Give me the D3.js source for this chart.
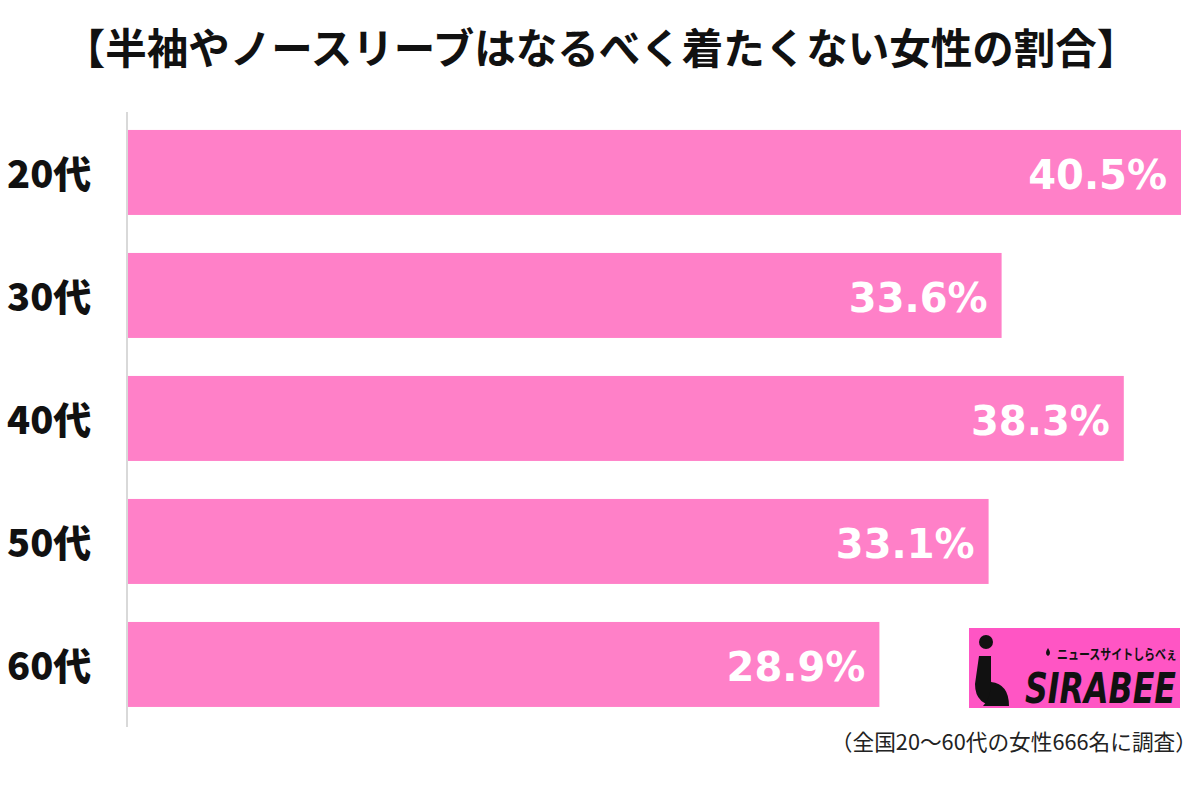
<!DOCTYPE html>
<html><head><meta charset="utf-8">
<script src="https://cdn.jsdelivr.net/npm/d3@7/dist/d3.min.js"></script>
<style>body{margin:0;background:#fff;} svg{display:block;}</style>
</head><body>
<svg id="chart" width="1200" height="786"></svg>
<script>
const categories = ["20代","30代","40代","50代","60代"];
const values = [40.5, 33.6, 38.3, 33.1, 28.9];
const valueLabels = ["40.5%","33.6%","38.3%","33.1%","28.9%"];
const title = "【半袖やノースリーブはなるべく着たくない女性の割合】";
const note = "（全国20〜60代の女性666名に調査）";

const svg = d3.select("#chart");
const font = "'Noto Sans CJK JP','Noto Sans',sans-serif";

svg.append("text").attr("x",601).attr("y",64).attr("text-anchor","middle")
  .attr("font-family",font).attr("font-weight","bold").attr("font-size",41.5).attr("fill","#111").text(title);

const x = d3.scaleLinear().domain([0,40.5]).range([128,1181]);
const y = d3.scaleBand().domain(categories).range([111.5,725.4]).paddingInner(0.309).paddingOuter(0.15);

svg.append("line").attr("x1",127).attr("x2",127).attr("y1",112).attr("y2",727)
  .attr("stroke","#d9d9d9").attr("stroke-width",2);

const g = svg.append("g");
g.selectAll("rect.bar").data(values).join("rect").attr("class","bar")
  .attr("x",x(0)).attr("y",(d,i)=>y(categories[i]))
  .attr("width",d=>x(d)-x(0)).attr("height",y.bandwidth()).attr("fill","#ff80c8");

g.selectAll("text.val").data(values).join("text").attr("class","val")
  .attr("x",d=>x(d)-14).attr("y",(d,i)=>y(categories[i])+y.bandwidth()/2+16.5)
  .attr("text-anchor","end").attr("font-family","'DejaVu Sans',sans-serif")
  .attr("font-weight","bold").attr("font-size",40).attr("fill","#fff")
  .text((d,i)=>valueLabels[i]);

g.selectAll("text.cat").data(categories).join("text").attr("class","cat")
  .attr("x",7).attr("y",d=>y(d)+y.bandwidth()/2+15.5)
  .attr("font-family",font).attr("font-weight","900").attr("font-size",38).attr("fill","#111")
  .text(d=>d);

svg.append("text").attr("x",1197).attr("y",750).attr("text-anchor","end")
  .attr("font-family",font).attr("font-size",21.7).attr("fill","#222").text(note);

// logo
const logo = svg.append("g").attr("transform","translate(969,628)");
logo.append("rect").attr("width",211).attr("height",80).attr("fill","#ff55c4");
logo.append("circle").attr("cx",17).attr("cy",14).attr("r",7).attr("fill","#111");
logo.append("path").attr("d","M10,28 L22,28 L22,52 Q22,64 30,64 L30,78 Q6,78 6,56 Z").attr("fill","#111");
logo.append("path").attr("d","M22,54 Q40,56 40,78 L14,78 Q22,70 22,54 Z").attr("fill","#111");
logo.append("path").attr("d","M79,20 Q75,26 79,28 Q83,26 79,20 Z").attr("fill","#111");
logo.append("g").attr("transform","translate(56,75) scale(1,1.45)")
  .append("text").attr("x",0).attr("y",0).attr("font-family","'DejaVu Sans Condensed','DejaVu Sans',sans-serif")
  .attr("font-weight","bold").attr("font-style","italic").attr("font-size",30)
  .attr("textLength",151).attr("lengthAdjust","spacingAndGlyphs").attr("fill","#111").text("SIRABEE");
logo.append("g").attr("transform","translate(148,31) scale(1,1.25)")
  .append("text").attr("x",0).attr("y",0).attr("text-anchor","middle").attr("font-family",font)
  .attr("font-weight","bold").attr("font-size",11).attr("textLength",120).attr("lengthAdjust","spacingAndGlyphs")
  .attr("fill","#111").text("ニュースサイトしらべぇ");
</script>
</body></html>
